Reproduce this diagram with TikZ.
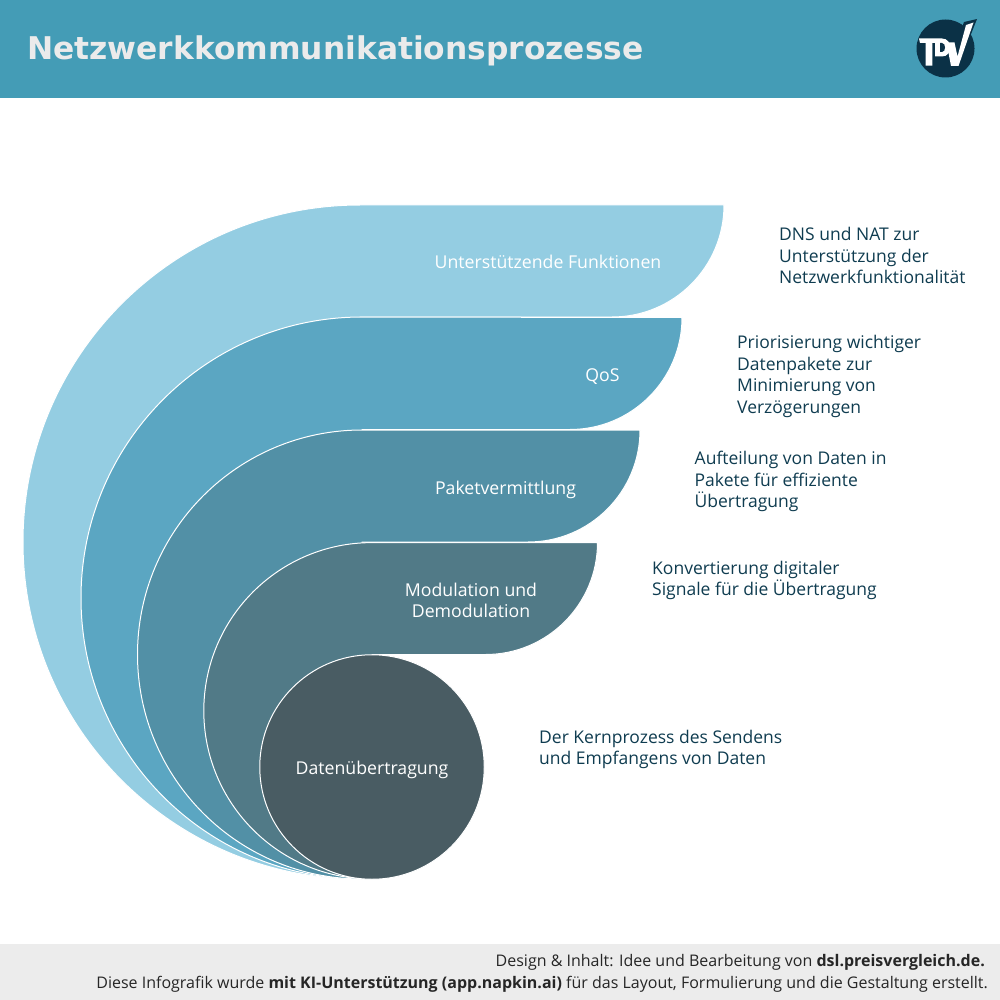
\documentclass[tikz,border=0pt]{standalone}
\usepackage{fontspec}
\setmainfont{Open Sans}
\newfontfamily\titlefont{DejaVu Sans}
\usetikzlibrary{calc}
\definecolor{headbg}{HTML}{449CB6}
\definecolor{footbg}{HTML}{ECECEC}
\definecolor{titletext}{HTML}{EBEBEB}
\definecolor{logodark}{HTML}{0B3146}
\definecolor{infotext}{HTML}{0F3C50}
\definecolor{layera}{HTML}{94CDE2}
\definecolor{layerb}{HTML}{5BA6C2}
\definecolor{layerc}{HTML}{5290A6}
\definecolor{layerd}{HTML}{517A87}
\definecolor{layere}{HTML}{495C63}
\tikzset{
  layer/.style={draw=white,line width=1pt},
  lbl/.style={text=white,font=\fontsize{17.7}{21.5}\selectfont,align=center},
  info/.style={anchor=west,text=infotext,font=\fontsize{17.5}{21.5}\selectfont,align=left,inner sep=0pt},
  foot/.style={anchor=east,text=black!85,font=\fontsize{16}{18}\selectfont,inner sep=0pt}
}
\begin{document}
\begin{tikzpicture}[x=1pt,y=-1pt]
    \useasboundingbox (0,0) rectangle (1000,1000);
    \fill[headbg] (0,0) rectangle (1000,98);
    \fill[footbg] (0,944) rectangle (1000,1000);
    \draw
    (27,51) node[anchor=west,inner sep=0pt,text=titletext,font=\titlefont\fontsize{31.3}{36}\selectfont\bfseries](Title) {Netzwerkkommunikationsprozesse};
    % logo
    \fill[logodark] (945.5,48.5) circle (29);
    \fill[logodark] (964,22) -- (977,19) -- (958,67) -- (948,67) -- cycle;
    \fill[white] (919,38.5) -- (942,38.5) .. controls (953,38.5) and (953,56.5) .. (942,56.5) -- (935,56.5) -- (935,43) -- (932.3,43) -- (932.3,65.7) -- (925.7,65.7) -- (925.7,43) -- (920,43) -- cycle;
    \fill[logodark] (940,43) -- (942,43) .. controls (946,43) and (946,52) .. (942,52) -- (940,52) -- cycle;
    \fill[white] (946.5,42.5) -- (954.5,42.5) -- (957.5,56.5) -- (966,25) -- (973.5,22.5) -- (958.5,66) -- (951,66) -- cycle;
    % layers
    \draw[layer,fill=layera] (724,205) arc[start angle=0,end angle=90,radius=112] -- (360,317) -- (360,879) arc[start angle=90,end angle=270,radius=337] -- cycle;
    \draw[layer,fill=layerb] (682,317.5) arc[start angle=0,end angle=90,radius=112] -- (362,429.5) -- (362,879) arc[start angle=90,end angle=270,radius=281] -- cycle;
    \draw[layer,fill=layerc] (640,430) arc[start angle=0,end angle=90,radius=112] -- (362,542) -- (362,879) arc[start angle=90,end angle=270,radius=224.5] -- cycle;
    \draw[layer,fill=layerd] (597.5,542.5) arc[start angle=0,end angle=90,radius=112] -- (372,654.5) -- (372,879) arc[start angle=90,end angle=270,radius=168.2] -- cycle;
    \draw
    (372,767) node[circle,draw=white,line width=1pt,fill=layere,minimum size=224.5pt,inner sep=0pt](Daten) {}
    (372,770) node[lbl](DatenText) {Datenübertragung}
    (548,262) node[lbl](Funktionen) {Unterstützende Funktionen}
    (602.5,376.5) node[lbl](Qos) {QoS}
    (505.5,490) node[lbl](Paket) {Paketvermittlung}
    (471,600.5) node[lbl](Modulation) {Modulation und\\Demodulation};
    \draw
    (779,255.5) node[info](InfoFunktionen) {DNS und NAT zur\\Unterstützung der\\Netzwerkfunktionalität}
    (737,376.5) node[info](InfoQos) {Priorisierung wichtiger\\Datenpakete zur\\Minimierung von\\Verzögerungen}
    (694.5,481.5) node[info](InfoPaket) {Aufteilung von Daten in\\Pakete für effiziente\\Übertragung}
    (652,580.5) node[info](InfoModulation) {Konvertierung digitaler\\Signale für die Übertragung}
    (539,749.5) node[info](InfoDaten) {Der Kernprozess des Sendens\\und Empfangens von Daten};
    \draw
    (985,962.5) node[foot](FootA) {Design \& Inhalt: Idee und Bearbeitung von \textbf{dsl.preisvergleich.de.}}
    (988,984) node[foot](FootB) {Diese Infografik wurde \textbf{mit KI-Unterstützung (app.napkin.ai)} für das Layout, Formulierung und die Gestaltung erstellt.};
  \end{tikzpicture}
\end{document}
